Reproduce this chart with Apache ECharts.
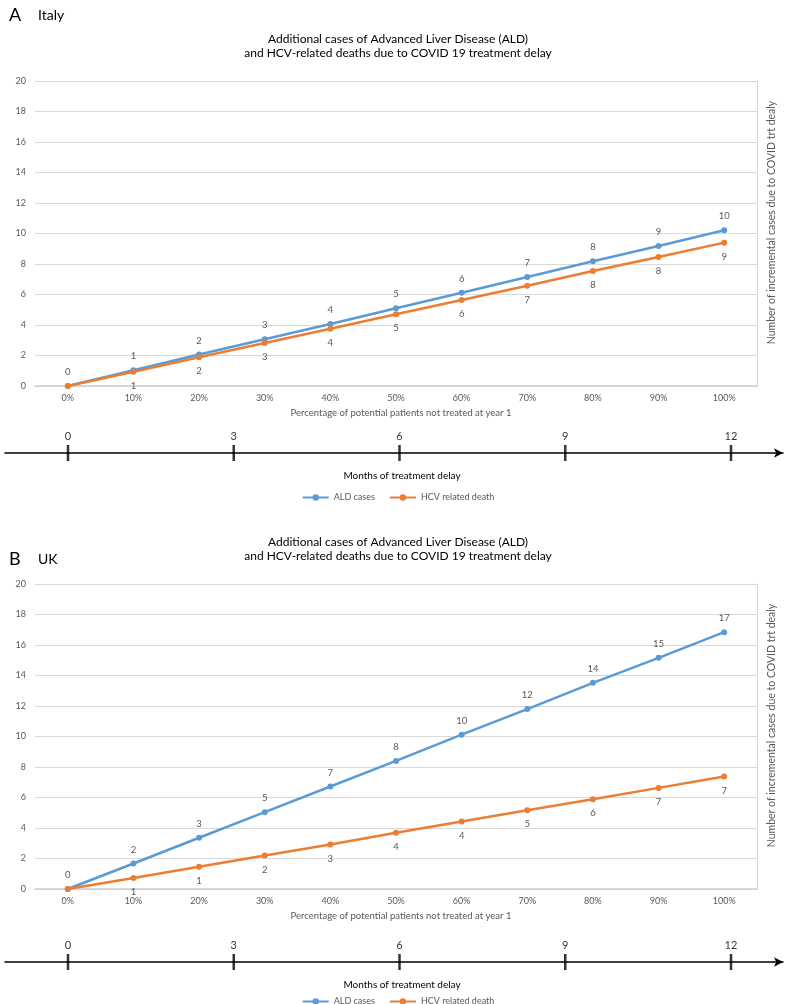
<!DOCTYPE html>
<html>
<head>
<meta charset="utf-8">
<script src="https://cdn.jsdelivr.net/npm/echarts@6/dist/echarts.min.js"></script>
<style>
html,body{margin:0;padding:0;background:#fff;}
#chart{width:796px;height:1004px;}
</style>
</head>
<body>
<div id="chart"></div>
<script>
// ---- data ----
const categories = ['0%','10%','20%','30%','40%','50%','60%','70%','80%','90%','100%'];
const italyALD = [0, 1.03, 2.06, 3.06, 4.07, 5.1, 6.12, 7.15, 8.18, 9.18, 10.21];
const italyHCV = [0, 0.93, 1.88, 2.82, 3.76, 4.7, 5.64, 6.58, 7.54, 8.46, 9.4];
const ukALD = [0, 1.67, 3.36, 5.04, 6.72, 8.4, 10.12, 11.8, 13.52, 15.16, 16.84];
const ukHCV = [0, 0.72, 1.46, 2.2, 2.92, 3.69, 4.43, 5.17, 5.89, 6.63, 7.38];
const monthTicks = [0, 3, 6, 9, 12];
const panelLetters = ['A', 'B'];
const panelCountries = ['Italy', 'UK'];
const seriesNames = ['ALD cases', 'HCV related death'];
const titleText = 'Additional cases of Advanced Liver Disease (ALD)\nand HCV-related deaths due to COVID 19 treatment delay';
const xAxisTitle = 'Percentage of potential patients not treated at year 1';
const yAxisTitle = 'Number of incremental cases due to COVID trt dealy';
const monthsTitle = 'Months of treatment delay';

// ---- layout ----
const FONT = 'Lato, "Liberation Sans", sans-serif';
const GRAY = '#595959';
const BLUE = '#5B9BD5';
const ORANGE = '#ED7D31';
const panels = [
  {ald: italyALD, hcv: italyHCV, plotTop: 81, letterTop: 1, titleTop: 27, monthsY: 453, legendY: 493},
  {ald: ukALD, hcv: ukHCV, plotTop: 584, letterTop: 545, titleTop: 530, monthsY: 962, legendY: 997}
];
const PLOT_H = 305;
const GRID_LEFT = 35, GRID_RIGHT = 39;
const M_LEFT = 5, M_RIGHT = 783, M0 = 68, M12 = 731;
const pxPerMonth = (M12 - M0) / 12;
const mMin = -(M0 - M_LEFT) / pxPerMonth;
const mMax = 12 + (M_RIGHT - M12) / pxPerMonth;

const titles = [], grids = [], xAxes = [], yAxes = [], series = [], legends = [];
panels.forEach((p, i) => {
  titles.push({text: panelLetters[i], left: 4, top: p.letterTop,
    textStyle: {fontFamily: FONT, fontSize: 18, fontWeight: 'normal', color: '#000'}});
  titles.push({text: panelCountries[i], left: 33, top: p.letterTop + 2,
    textStyle: {fontFamily: FONT, fontSize: 14, fontWeight: 'normal', color: '#000'}});
  titles.push({text: titleText, left: 'center', top: p.titleTop,
    textStyle: {fontFamily: FONT, fontSize: 12, fontWeight: 'normal', color: '#000', lineHeight: 14}});

  // main plot grid
  const gi = grids.length;
  grids.push({left: GRID_LEFT, right: GRID_RIGHT, top: p.plotTop, height: PLOT_H, containLabel: false});
  xAxes.push({type: 'category', gridIndex: gi, data: categories, boundaryGap: true,
    axisLine: {show: true, lineStyle: {color: '#D0D0D0', width: 1.5}},
    axisTick: {show: false},
    axisLabel: {color: GRAY, fontFamily: FONT, fontSize: 9, margin: 8},
    name: xAxisTitle, nameLocation: 'middle', nameGap: 22,
    nameTextStyle: {color: GRAY, fontFamily: FONT, fontSize: 9.5, padding: [0, 0, 0, 10]}});
  const yl = yAxes.length;
  yAxes.push({type: 'value', gridIndex: gi, min: 0, max: 20, interval: 2, position: 'left',
    axisLine: {show: false}, axisTick: {show: false},
    axisLabel: {color: GRAY, fontFamily: FONT, fontSize: 9, margin: 9},
    splitLine: {lineStyle: {color: '#D9D9D9', width: 1.2}}});
  yAxes.push({type: 'value', gridIndex: gi, min: 0, max: 20, interval: 2, position: 'right',
    axisLine: {show: true, lineStyle: {color: '#D9D9D9', width: 1.2}}, axisTick: {show: false},
    axisLabel: {show: false}, splitLine: {show: false},
    name: yAxisTitle, nameLocation: 'middle', nameRotate: 90, nameGap: 9,
    nameTextStyle: {color: GRAY, fontFamily: FONT, fontSize: 10.5, padding: [0, 0, 0, 22]}});
  const xi = xAxes.length - 1;
  series.push({name: seriesNames[0], type: 'line', xAxisIndex: xi, yAxisIndex: yl, data: p.ald,
    symbol: 'circle', symbolSize: 6, color: BLUE, lineStyle: {width: 2.5, color: BLUE},
    itemStyle: {color: BLUE}, z: 3,
    label: {show: true, position: 'top', distance: 6, color: GRAY, fontFamily: FONT, fontSize: 9.5,
      formatter: (d) => String(Math.round(d.value))}});
  series.push({name: seriesNames[1], type: 'line', xAxisIndex: xi, yAxisIndex: yl, data: p.hcv,
    symbol: 'circle', symbolSize: 6, color: ORANGE, lineStyle: {width: 2.5, color: ORANGE},
    itemStyle: {color: ORANGE}, z: 4,
    label: {show: true, position: 'bottom', distance: 6, color: GRAY, fontFamily: FONT, fontSize: 9.5,
      formatter: (d) => d.dataIndex === 0 ? '' : String(Math.round(d.value))}});

  // months axis grid
  const mg = grids.length;
  grids.push({left: M_LEFT, width: M_RIGHT - M_LEFT, top: p.monthsY - 8, height: 16});
  xAxes.push({type: 'value', gridIndex: mg, min: mMin, max: mMax,
    axisLine: {show: true, onZero: true, lineStyle: {color: '#000', width: 1.5},
      symbol: ['none', 'arrow'], symbolSize: [7, 9]},
    axisTick: {show: false}, axisLabel: {show: false}, splitLine: {show: false},
    name: monthsTitle, nameLocation: 'middle', nameGap: 10,
    nameTextStyle: {color: '#000', fontFamily: FONT, fontSize: 10, padding: [0, 0, 0, 16]}});
  const my = yAxes.length;
  yAxes.push({type: 'value', gridIndex: mg, min: -1, max: 1, show: false});
  series.push({type: 'scatter', xAxisIndex: xAxes.length - 1, yAxisIndex: my,
    data: monthTicks.map(m => [m, 0]), symbol: 'rect', symbolSize: [2.5, 16],
    itemStyle: {color: '#000'}, silent: true,
    label: {show: true, position: 'top', distance: 3, color: '#000', fontFamily: FONT, fontSize: 11,
      formatter: (d) => String(d.value[0])}});

  legends.push({data: seriesNames, left: 'center', top: p.legendY - 5, itemWidth: 26, itemHeight: 8,
    itemGap: 14, textStyle: {color: GRAY, fontFamily: FONT, fontSize: 9}});
});

const chart = echarts.init(document.getElementById('chart'), null, {renderer: 'canvas'});
chart.setOption({
  animation: false,
  backgroundColor: '#fff',
  title: titles,
  grid: grids,
  xAxis: xAxes,
  yAxis: yAxes,
  legend: legends,
  series: series
});
</script>
</body>
</html>
